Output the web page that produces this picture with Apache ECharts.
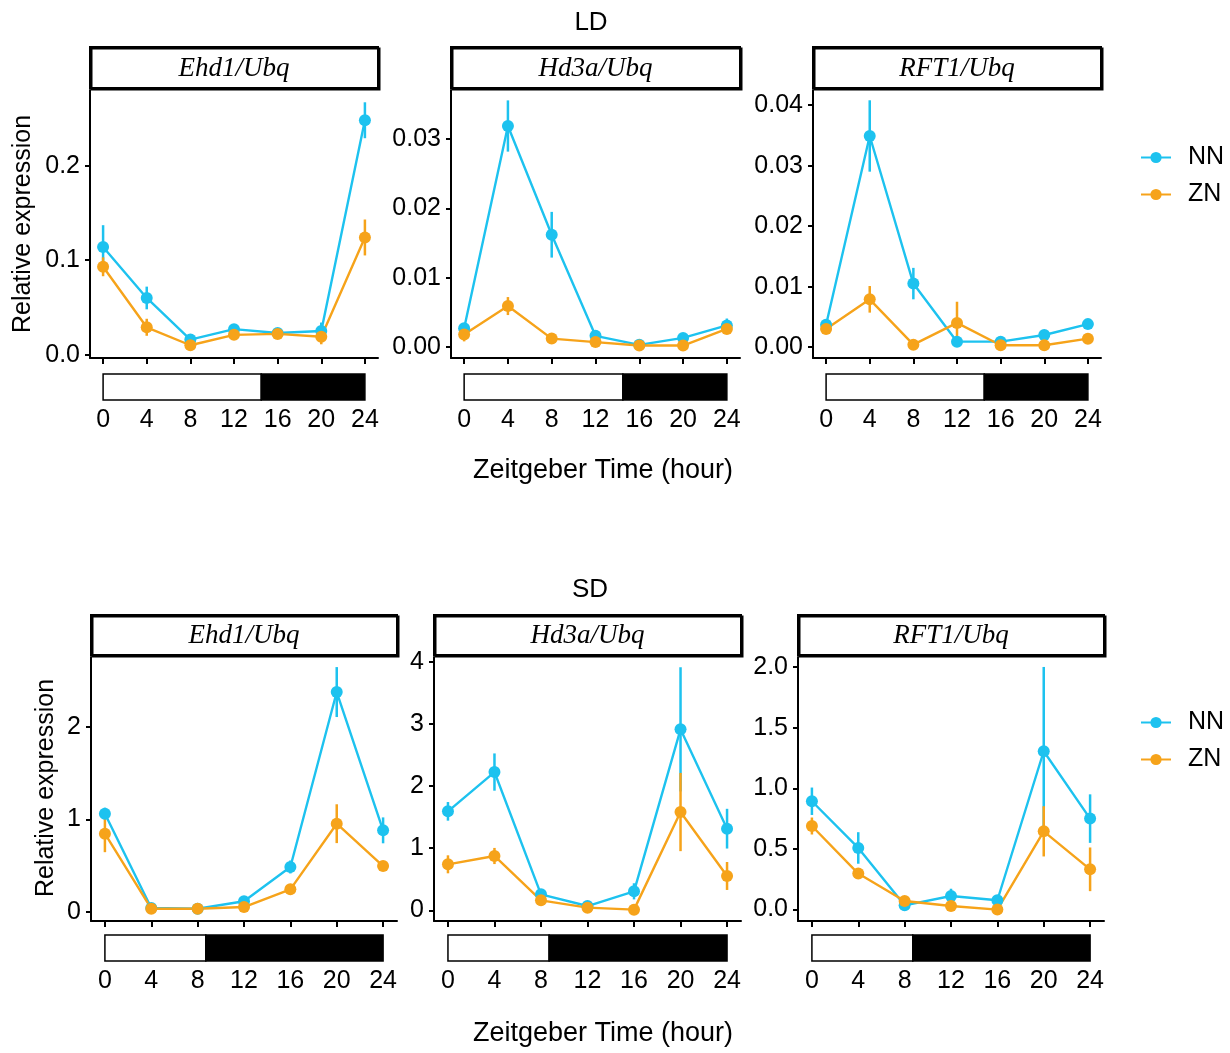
<!DOCTYPE html>
<html><head><meta charset="utf-8">
<script src="https://cdn.jsdelivr.net/npm/echarts@6/dist/echarts.min.js"></script>
<style>html,body{margin:0;padding:0;background:#fff}#c{width:1230px;height:1053px}</style>
</head><body><div id="c"></div><script>
// ---------- data ----------
const hours = [0, 4, 8, 12, 16, 20, 24];
const xTickLabels = ['0', '4', '8', '12', '16', '20', '24'];
const groups = ['NN', 'ZN'];
const genes = ['Ehd1/Ubq', 'Hd3a/Ubq', 'RFT1/Ubq'];
const conditions = ['LD', 'SD'];
const xTitle = 'Zeitgeber Time (hour)';
const yTitle = 'Relative expression';

// light period end (hours) and day end
const ldLightEnd = 14.5;
const sdLightEnd = 8.7;
const dayEnd = 24;

// LD Ehd1
const ldEhd1NN   = [0.114, 0.060, 0.016, 0.027, 0.023, 0.025, 0.248];
const ldEhd1NNse = [0.023, 0.012, 0.002, 0.003, 0.002, 0.009, 0.019];
const ldEhd1ZN   = [0.093, 0.029, 0.010, 0.021, 0.022, 0.019, 0.124];
const ldEhd1ZNse = [0.010, 0.009, 0.002, 0.003, 0.003, 0.008, 0.019];
// LD Hd3a
const ldHd3aNN   = [0.0027, 0.0319, 0.0162, 0.0016, 0.0003, 0.0013, 0.0031];
const ldHd3aNNse = [0.0003, 0.0037, 0.0033, 0.0002, 0.0002, 0.0003, 0.0010];
const ldHd3aZN   = [0.0018, 0.0059, 0.0012, 0.0007, 0.0002, 0.0002, 0.0026];
const ldHd3aZNse = [0.0010, 0.0013, 0.0002, 0.0002, 0.0001, 0.0001, 0.0003];
// LD RFT1
const ldRft1NN   = [0.0037, 0.0349, 0.0105, 0.0009, 0.0009, 0.0020, 0.0038];
const ldRft1NNse = [0.0005, 0.0059, 0.0026, 0.0002, 0.0002, 0.0003, 0.0004];
const ldRft1ZN   = [0.0030, 0.0079, 0.0004, 0.0040, 0.0003, 0.0003, 0.0014];
const ldRft1ZNse = [0.0003, 0.0022, 0.0002, 0.0035, 0.0001, 0.0001, 0.0003];
// SD Ehd1
const sdEhd1NN   = [1.063, 0.043, 0.036, 0.116, 0.487, 2.378, 0.883];
const sdEhd1NNse = [0.065, 0.010, 0.010, 0.030, 0.070, 0.270, 0.140];
const sdEhd1ZN   = [0.847, 0.036, 0.036, 0.054, 0.245, 0.955, 0.497];
const sdEhd1ZNse = [0.200, 0.010, 0.010, 0.010, 0.020, 0.210, 0.020];
// SD Hd3a
const sdHd3aNN   = [1.594, 2.227, 0.258, 0.069, 0.306, 2.915, 1.315];
const sdHd3aNNse = [0.150, 0.300, 0.030, 0.020, 0.130, 1.000, 0.320];
const sdHd3aZN   = [0.741, 0.875, 0.161, 0.043, 0.011, 1.583, 0.553];
const sdHd3aZNse = [0.145, 0.130, 0.030, 0.010, 0.005, 0.630, 0.225];
// SD RFT1
const sdRft1NN   = [0.893, 0.508, 0.035, 0.112, 0.077, 1.305, 0.750];
const sdRft1NNse = [0.113, 0.130, 0.010, 0.060, 0.010, 0.695, 0.200];
const sdRft1ZN   = [0.689, 0.297, 0.071, 0.030, 0.000, 0.645, 0.332];
const sdRft1ZNse = [0.070, 0.020, 0.010, 0.010, 0.005, 0.207, 0.180];

// y-axis ticks, tick labels and ranges
const ldEhd1Ticks = [0, 0.1, 0.2];            const ldEhd1TickLabels = ['0.0', '0.1', '0.2'];
const ldHd3aTicks = [0, 0.01, 0.02, 0.03];    const ldHd3aTickLabels = ['0.00', '0.01', '0.02', '0.03'];
const ldRft1Ticks = [0, 0.01, 0.02, 0.03, 0.04]; const ldRft1TickLabels = ['0.00', '0.01', '0.02', '0.03', '0.04'];
const sdEhd1Ticks = [0, 1, 2];                const sdEhd1TickLabels = ['0', '1', '2'];
const sdHd3aTicks = [0, 1, 2, 3, 4];          const sdHd3aTickLabels = ['0', '1', '2', '3', '4'];
const sdRft1Ticks = [0, 0.5, 1, 1.5, 2];      const sdRft1TickLabels = ['0.0', '0.5', '1.0', '1.5', '2.0'];
const ldEhd1Range = [-0.0035, 0.280];
const ldHd3aRange = [-0.0016, 0.0371];
const ldRft1Range = [-0.0018, 0.0425];
const sdEhd1Range = [-0.097, 2.757];
const sdHd3aRange = [-0.172, 4.08];
const sdRft1Range = [-0.094, 2.082];
const xRange = [-1.2, 25.2];

// ---------- assembly ----------
const panels = [
  {cond: 0, gene: 0, NN: ldEhd1NN, NNse: ldEhd1NNse, ZN: ldEhd1ZN, ZNse: ldEhd1ZNse, ticks: ldEhd1Ticks, labels: ldEhd1TickLabels, range: ldEhd1Range, light: ldLightEnd},
  {cond: 0, gene: 1, NN: ldHd3aNN, NNse: ldHd3aNNse, ZN: ldHd3aZN, ZNse: ldHd3aZNse, ticks: ldHd3aTicks, labels: ldHd3aTickLabels, range: ldHd3aRange, light: ldLightEnd},
  {cond: 0, gene: 2, NN: ldRft1NN, NNse: ldRft1NNse, ZN: ldRft1ZN, ZNse: ldRft1ZNse, ticks: ldRft1Ticks, labels: ldRft1TickLabels, range: ldRft1Range, light: ldLightEnd},
  {cond: 1, gene: 0, NN: sdEhd1NN, NNse: sdEhd1NNse, ZN: sdEhd1ZN, ZNse: sdEhd1ZNse, ticks: sdEhd1Ticks, labels: sdEhd1TickLabels, range: sdEhd1Range, light: sdLightEnd},
  {cond: 1, gene: 1, NN: sdHd3aNN, NNse: sdHd3aNNse, ZN: sdHd3aZN, ZNse: sdHd3aZNse, ticks: sdHd3aTicks, labels: sdHd3aTickLabels, range: sdHd3aRange, light: sdLightEnd},
  {cond: 1, gene: 2, NN: sdRft1NN, NNse: sdRft1NNse, ZN: sdRft1ZN, ZNse: sdRft1ZNse, ticks: sdRft1Ticks, labels: sdRft1TickLabels, range: sdRft1Range, light: sdLightEnd}
];

const layout = [
  {left: 90,  top: 90,  width: 288, height: 268, stripTop: 47,  stripH: 41, barTop: 374, barH: 26},
  {left: 451, top: 90,  width: 289, height: 268, stripTop: 47,  stripH: 41, barTop: 374, barH: 26},
  {left: 813, top: 90,  width: 288, height: 268, stripTop: 47,  stripH: 41, barTop: 374, barH: 26},
  {left: 91,  top: 657, width: 306, height: 264, stripTop: 615, stripH: 40, barTop: 935, barH: 26},
  {left: 434, top: 657, width: 307, height: 264, stripTop: 615, stripH: 40, barTop: 935, barH: 26},
  {left: 798, top: 657, width: 306, height: 264, stripTop: 615, stripH: 40, barTop: 935, barH: 26}
];

const FONT = '"Liberation Sans", Arial, Helvetica, sans-serif';
const SERIF = '"Liberation Serif", "DejaVu Serif", serif';
const colors = {NN: '#1DC2EF', ZN: '#F6A31A'};
const FS = 25;

const grid = [], xAxis = [], yAxis = [], series = [];

function nearestLabel(ticks, labels, v) {
  let bi = 0, bd = Infinity;
  ticks.forEach((t, i) => { const d = Math.abs(t - v); if (d < bd) { bd = d; bi = i; } });
  return labels[bi];
}

panels.forEach((p, pi) => {
  const L = layout[pi];
  const gMain = grid.length;
  grid.push({left: L.left, top: L.top, width: L.width, height: L.height, containLabel: false});
  const gStrip = grid.length;
  grid.push({left: L.left, top: L.stripTop, width: L.width, height: L.stripH, show: true,
    borderColor: '#000', borderWidth: 2, backgroundColor: '#fff',
    shadowColor: '#000', shadowBlur: 0, shadowOffsetX: 1.5, shadowOffsetY: 1.5});
  const gBar = grid.length;
  grid.push({left: L.left, top: L.barTop, width: L.width, height: L.barH});

  // main axes
  const xMain = xAxis.length;
  xAxis.push({gridIndex: gMain, type: 'value', min: xRange[0], max: xRange[1],
    axisLine: {show: true, onZero: false, lineStyle: {color: '#000', width: 2}},
    axisTick: {show: true, customValues: hours, length: 6, lineStyle: {color: '#000', width: 2}},
    axisLabel: {show: false, customValues: hours},
    splitLine: {show: false}});
  const yMain = yAxis.length;
  yAxis.push({gridIndex: gMain, type: 'value', min: p.range[0], max: p.range[1],
    axisLine: {show: true, onZero: false, lineStyle: {color: '#000', width: 2}},
    axisTick: {show: true, customValues: p.ticks, length: 5, lineStyle: {color: '#000', width: 2}},
    axisLabel: {show: true, customValues: p.ticks, margin: 10, fontSize: FS, fontFamily: FONT, color: '#000',
      formatter: (v) => nearestLabel(p.ticks, p.labels, v)},
    splitLine: {show: false}});
  // strip axes (hidden)
  xAxis.push({gridIndex: gStrip, type: 'value', show: false, min: 0, max: 1});
  yAxis.push({gridIndex: gStrip, type: 'value', show: false, min: 0, max: 1});
  // bar axes
  const xBar = xAxis.length;
  xAxis.push({gridIndex: gBar, type: 'value', min: xRange[0], max: xRange[1],
    axisLine: {show: false}, axisTick: {show: false}, splitLine: {show: false},
    axisLabel: {show: true, customValues: hours, margin: 8, fontSize: FS, fontFamily: FONT, color: '#000',
      formatter: (v) => nearestLabel(hours, xTickLabels, v)}});
  const yBar = yAxis.length;
  yAxis.push({gridIndex: gBar, type: 'value', show: false, min: 0, max: 1});

  // error bars
  groups.forEach((g) => {
    const mean = p[g], se = p[g + 'se'];
    series.push({type: 'custom', name: g + ' error', xAxisIndex: xMain, yAxisIndex: yMain, z: 2,
      silent: true, animation: false,
      data: hours.map((h, i) => [h, mean[i], se[i]]),
      encode: {x: 0, y: 1},
      renderItem: (params, api) => {
        const x = api.value(0), m = api.value(1), e = api.value(2);
        const a = api.coord([x, m - e]), b = api.coord([x, m + e]);
        return {type: 'line', shape: {x1: a[0], y1: a[1], x2: b[0], y2: b[1]},
          style: {stroke: colors[g], lineWidth: 2.5}};
      }});
  });
  // lines + points
  groups.forEach((g) => {
    const mean = p[g];
    series.push({type: 'line', name: g, xAxisIndex: xMain, yAxisIndex: yMain, z: 3,
      data: hours.map((h, i) => [h, mean[i]]),
      symbol: 'circle', symbolSize: 12, showSymbol: true,
      itemStyle: {color: colors[g]}, lineStyle: {color: colors[g], width: 2.4},
      emphasis: {disabled: true}, animation: false, silent: true});
  });
  // light/dark bar
  series.push({type: 'custom', name: 'photoperiod', xAxisIndex: xBar, yAxisIndex: yBar, silent: true, animation: false,
    data: [[0, p.light, 0], [p.light, dayEnd, 1]],
    encode: {x: [0, 1]},
    renderItem: (params, api) => {
      const s = api.coord([api.value(0), 1]), e = api.coord([api.value(1), 0]);
      return {type: 'rect', shape: {x: s[0], y: s[1], width: e[0] - s[0], height: e[1] - s[1]},
        style: {fill: api.value(2) ? '#000' : '#fff', stroke: '#000', lineWidth: 1.5}};
    }});
});

function txt(text, x, y, opts) {
  return Object.assign({type: 'text', x: x, y: y, silent: true, z: 100,
    style: Object.assign({text: text, fontSize: FS, fontFamily: FONT, fill: '#000',
      align: 'center', verticalAlign: 'middle', textAlign: 'center', textVerticalAlign: 'middle'}, opts && opts.style || {})},
    opts && opts.el || {});
}

const graphic = [
  txt(conditions[0], 591, 23, {style: {fontSize: 26}}),
  txt(conditions[1], 590, 590, {style: {fontSize: 26}}),
  txt(yTitle, 23, 224, {el: {rotation: Math.PI / 2}}),
  txt(yTitle, 46, 788, {el: {rotation: Math.PI / 2}}),
  txt(xTitle, 603, 471, {style: {fontSize: 27}}),
  txt(xTitle, 603, 1034, {style: {fontSize: 27}})
];
panels.forEach((p, pi) => {
  const L = layout[pi];
  graphic.push(txt(genes[p.gene], L.left + L.width / 2, L.stripTop + L.stripH / 2 + 1,
    {style: {fontFamily: SERIF, fontStyle: 'italic', fontSize: 27}}));
});

const legendBase = {orient: 'vertical', left: 1140, padding: 0, data: groups, itemWidth: 30, itemHeight: 14, itemGap: 12,
  selectedMode: false, textStyle: {fontSize: FS, fontFamily: FONT, color: '#000', padding: [0, 0, 0, 12], lineHeight: 25}};

const chart = echarts.init(document.getElementById('c'), null, {renderer: 'canvas'});
chart.setOption({
  backgroundColor: '#fff',
  animation: false,
  grid: grid, xAxis: xAxis, yAxis: yAxis, series: series,
  legend: [Object.assign({}, legendBase, {top: 145}), Object.assign({}, legendBase, {top: 710})],
  graphic: graphic
});
</script></body></html>
